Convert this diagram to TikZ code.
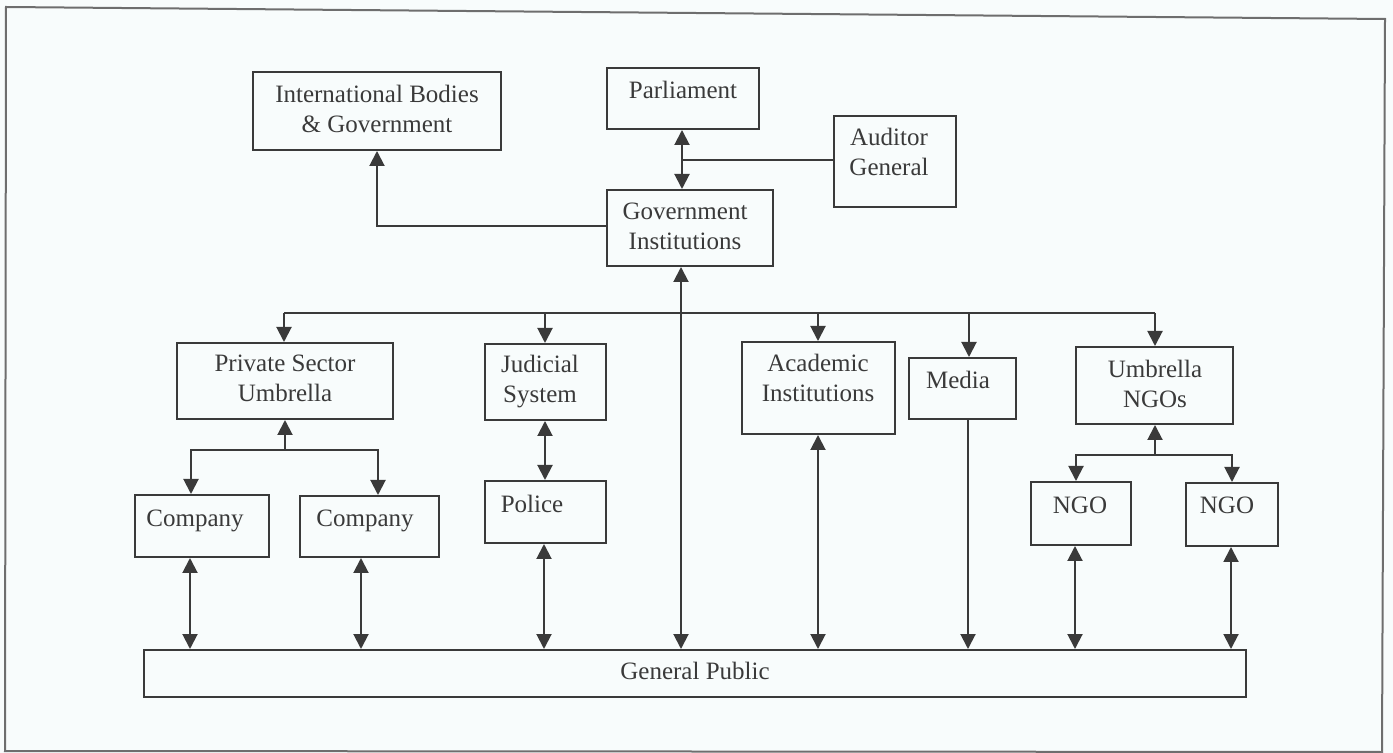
\documentclass[tikz,border=0pt]{standalone}
\usepackage{fontspec}
\setmainfont{Liberation Serif}
\usetikzlibrary{arrows.meta}
\definecolor{ink}{RGB}{58,58,58}
\definecolor{paper}{RGB}{248,252,252}
\definecolor{framec}{RGB}{110,110,110}
\begin{document}
\begin{tikzpicture}[x=0.5pt,y=-0.5pt,
  box/.style={draw=ink,line width=1pt,rectangle,inner sep=0pt},
  lbl/.style={anchor=north,align=center,inner sep=0pt,text=ink,
    font=\fontsize{12.5pt}{15pt}\selectfont},
  conn/.style={draw=ink,line width=1pt},
  tip/.style={-{Triangle[length=7.5pt,width=7.5pt]}},
  tips/.style={{Triangle[length=7.5pt,width=7.5pt]}-{Triangle[length=7.5pt,width=7.5pt]}}]
\useasboundingbox (0,0) rectangle (1393,753);
\fill[paper] (0,0) rectangle (1393,753);
\draw[framec,line width=1pt] (6,7) -- (1385,19) -- (1382,752) -- (5,751) -- cycle;
% boxes: corners
\newcommand{\mybox}[5]{\node[box,minimum width={(#4-#2)*0.5pt},minimum height={(#5-#3)*0.5pt}] (#1) at ({(#2+#4)/2},{(#3+#5)/2}) {};}
\mybox{intl}{253}{72}{501}{150}
\mybox{parl}{607}{68}{759}{129}
\mybox{aud}{834}{116}{956}{207}
\mybox{gov}{607}{190}{773}{266}
\mybox{priv}{177}{343}{393}{419}
\mybox{jud}{485}{344}{606}{420}
\mybox{acad}{742}{342}{895}{434}
\mybox{media}{909}{358}{1016}{419}
\mybox{ungo}{1076}{347}{1233}{424}
\mybox{comA}{135}{495}{269}{557}
\mybox{comB}{300}{496}{439}{557}
\mybox{pol}{485}{481}{606}{543}
\mybox{ngoA}{1031}{482}{1131}{545}
\mybox{ngoB}{1186}{483}{1278}{546}
\mybox{pub}{144}{650}{1246}{697}
% labels
\node[lbl] (intl-t) at (377,85) {International Bodies\\\& Government};
\node[lbl] (parl-t) at (683,81) {Parliament};
\node[lbl] (aud-t) at (889,128) {Auditor\\General};
\node[lbl] (gov-t) at (685,203) {Government\\Institutions};
\node[lbl] (priv-t) at (285,355) {Private Sector\\Umbrella};
\node[lbl] (jud-t) at (540,355) {Judicial\\System};
\node[lbl] (acad-t) at (818,354) {Academic\\Institutions};
\node[lbl] (media-t) at (958,371) {Media};
\node[lbl] (ungo-t) at (1155,360) {Umbrella\\NGOs};
\node[lbl] (comA-t) at (195,510) {Company};
\node[lbl] (comB-t) at (365,510) {Company};
\node[lbl] (pol-t) at (532,495) {Police};
\node[lbl] (ngoA-t) at (1080,497) {NGO};
\node[lbl] (ngoB-t) at (1227,497) {NGO};
\node[lbl] (pub-t) at (695,662) {General Public};
% junction coordinates
\coordinate (busL) at (284,313);
\coordinate (busR) at (1155,313);
\coordinate (pvj) at (285,450);
\coordinate (ngj) at (1155,455);
% connectors
\draw[conn,tip] (gov.west |- 0,226) -| (intl.south -| 377,0);
\draw[conn,tips] (parl.south -| 682,0) -- (gov.north -| 682,0);
\draw[conn] (682,160) -- (aud.west |- 0,160);
\draw[conn,tips] (gov.south -| 681,0) -- (pub.north -| 681,0);
\draw[conn] (busL) -- (busR);
\draw[conn,tip] (busL) -- (priv.north -| busL);
\draw[conn,tip] (545,313) -- (jud.north -| 545,0);
\draw[conn,tip] (818,313) -- (acad.north -| 818,0);
\draw[conn,tip] (969,313) -- (media.north -| 969,0);
\draw[conn,tip] (busR) -- (ungo.north -| busR);
% private sector branch
\draw[conn,tip] (pvj) -- (priv.south -| pvj);
\draw[conn,tip] (pvj) -| (comA.north -| 191,0);
\draw[conn,tip] (pvj) -| (comB.north -| 378,0);
% NGO branch
\draw[conn,tip] (ngj) -- (ungo.south -| ngj);
\draw[conn,tip] (ngj) -| (ngoA.north -| 1076,0);
\draw[conn,tip] (ngj) -| (ngoB.north -| 1232,0);
% judicial - police
\draw[conn,tips] (jud.south -| 545,0) -- (pol.north -| 545,0);
% to general public
\draw[conn,tips] (comA.south -| 190,0) -- (pub.north -| 190,0);
\draw[conn,tips] (comB.south -| 361,0) -- (pub.north -| 361,0);
\draw[conn,tips] (pol.south -| 544,0) -- (pub.north -| 544,0);
\draw[conn,tips] (acad.south -| 818,0) -- (pub.north -| 818,0);
\draw[conn,tip] (media.south -| 968,0) -- (pub.north -| 968,0);
\draw[conn,tips] (ngoA.south -| 1075,0) -- (pub.north -| 1075,0);
\draw[conn,tips] (ngoB.south -| 1231,0) -- (pub.north -| 1231,0);
\end{tikzpicture}
\end{document}
